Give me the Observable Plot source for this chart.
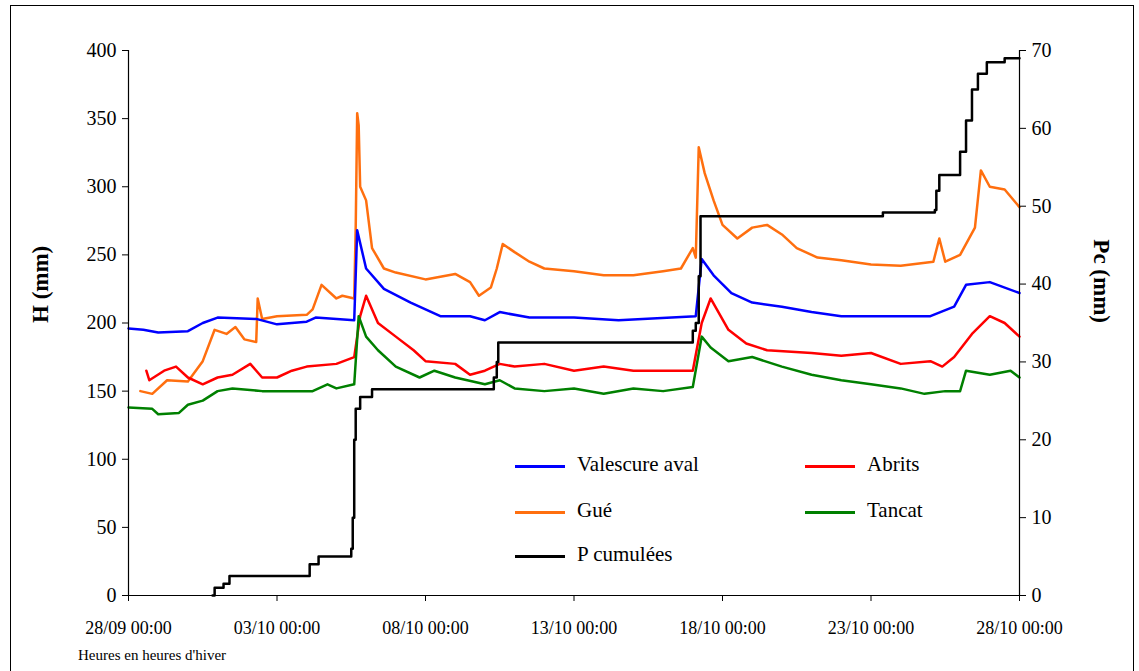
<!DOCTYPE html>
<html><head><meta charset="utf-8">
<script src="https://cdn.jsdelivr.net/npm/d3@7"></script>
<script src="https://cdn.jsdelivr.net/npm/@observablehq/plot@0.6"></script>
<style>
body{margin:0;background:#fff;font-family:'Liberation Serif','DejaVu Serif',serif}
#wrap{position:relative;width:1139px;height:671px}
#border{position:absolute;left:10px;top:5px;width:1124px;height:670px;border:1.5px solid #000;box-sizing:border-box;pointer-events:none}
#legend{position:absolute;left:515px;top:452px;font-size:21px;font-family:'Liberation Serif','DejaVu Serif',serif}
.it{position:absolute;white-space:nowrap;font-family:'Liberation Serif','DejaVu Serif',serif}
.it span{display:inline-block;width:50px;height:3px;vertical-align:middle;margin-right:12px}
#note{position:absolute;left:78px;top:647px;font-size:15px;font-family:'Liberation Serif','DejaVu Serif',serif}
</style></head><body>
<div id="wrap"><div id="chart"></div><div id="border"></div>
<div id="legend"></div><div id="note">Heures en heures d'hiver</div></div>
<script>
const t0 = new Date(2009,8,28);
const xTicks = ["28/09 00:00","03/10 00:00","08/10 00:00","13/10 00:00","18/10 00:00","23/10 00:00","28/10 00:00"];
const valescure = [[0,196],[0.5,195],[1,193],[2,194],[2.5,200],[3,204],[4.3,203],[5,199],[6,201],[6.3,204],[7.6,202],[7.7,268],[8,240],[8.6,225],[9.5,215],[10.5,205],[11.5,205],[12,202],[12.5,208],[13.5,204],[15,204],[16.5,202],[19.1,205],[19.3,247],[19.7,235],[20.3,222],[21,215],[22,212],[23,208],[24,205],[27,205],[27.8,212],[28.2,228],[29,230],[30,222]];
const gue = [[0.4,150],[0.8,148],[1.3,158],[2,157],[2.5,172],[2.9,195],[3.3,192],[3.6,197],[3.9,188],[4.3,186],[4.35,218],[4.5,203],[5,205],[6,206],[6.2,210],[6.5,228],[7,218],[7.2,220],[7.6,218],[7.65,270],[7.7,354],[7.75,345],[7.8,300],[8,290],[8.2,255],[8.6,240],[9,237],[10,232],[11,236],[11.5,230],[11.8,220],[12.2,226],[12.4,240],[12.6,258],[13,252],[13.5,245],[14,240],[15,238],[16,235],[17,235],[18,238],[18.6,240],[19,255],[19.1,248],[19.2,329],[19.4,310],[19.7,290],[20,272],[20.5,262],[21,270],[21.5,272],[22,265],[22.5,255],[23.2,248],[24,246],[25,243],[26,242],[27.1,245],[27.3,262],[27.5,245],[28,250],[28.5,270],[28.7,312],[29,300],[29.5,298],[30,285]];
const abrits = [[0.6,165],[0.7,158],[1.2,165],[1.6,168],[2,160],[2.5,155],[3,160],[3.5,162],[4.1,170],[4.5,160],[5,160],[5.5,165],[6,168],[7,170],[7.6,175],[7.8,205],[8,220],[8.4,200],[9,190],[9.6,180],[10,172],[11,170],[11.5,162],[12,165],[12.5,170],[13,168],[14,170],[15,165],[16,168],[17,165],[19,165],[19.3,200],[19.6,218],[20.2,195],[20.8,185],[21.5,180],[23,178],[24,176],[25,178],[26,170],[27,172],[27.4,168],[27.8,175],[28.4,192],[29,205],[29.5,200],[30,190]];
const tancat = [[0,138],[0.8,137],[1,133],[1.7,134],[2,140],[2.5,143],[3,150],[3.5,152],[4.5,150],[5.5,150],[6.2,150],[6.7,155],[7,152],[7.6,155],[7.75,205],[8,190],[8.4,180],[9,168],[9.8,160],[10.3,165],[11,160],[12,155],[12.5,158],[13,152],[14,150],[15,152],[16,148],[17,152],[18,150],[19,153],[19.3,190],[19.6,182],[20.2,172],[21,175],[22,168],[23,162],[24,158],[25,155],[26,152],[26.8,148],[27.5,150],[28,150],[28.2,165],[29,162],[29.7,165],[30,160]];
const pcum = [[2.83,0],[2.9,1],[3.2,1.5],[3.4,2.5],[6.0,2.5],[6.1,4],[6.4,5],[7.5,6],[7.55,10],[7.6,20],[7.65,24],[7.8,25.5],[8.2,26.5],[12.2,26.5],[12.3,28],[12.4,30],[12.45,32.5],[18.9,32.5],[19.0,34],[19.1,35],[19.2,41],[19.26,48.7],[25.3,48.7],[25.4,49.2],[27.15,49.5],[27.2,52],[27.3,54],[27.9,54],[28.0,57],[28.2,61],[28.4,65],[28.6,67],[28.9,68.5],[29.5,69],[30,69]];
const pcTicks = [0,10,20,30,40,50,60,70];
const series = [
 {name:"Valescure aval",color:"#0000ff",data:valescure},
 {name:"Abrits",color:"#ff0000",data:abrits},
 {name:"Gué",color:"#ff6f0f",data:gue},
 {name:"Tancat",color:"#008000",data:tancat},
 {name:"P cumulées",color:"#000000",data:pcum.map(([d,v])=>[d,v*400/70]),step:true}
];
const toDate = d => new Date(+t0 + d*864e5);
const marks = [];
const order=[2,1,3,0,4];
for (const i of order){const s=series[i];
 marks.push(Plot.line(s.data,{x:d=>toDate(d[0]),y:d=>d[1],stroke:s.color,strokeWidth:2.5,curve:s.step?"step-after":"linear"}));}
const ticks = xTicks.map((_,i)=>toDate(i*5));
const plot = Plot.plot({
 width:1139,height:671,marginLeft:128,marginRight:120,marginTop:50,marginBottom:76,
 style:{fontFamily:"Liberation Serif, serif",fontSize:"20px",background:"transparent"},
 x:{type:"time",domain:[t0,toDate(30)]},
 y:{domain:[0,400]},
 marks:[
  ...marks,
  Plot.axisX({ticks,tickFormat:(d,i)=>xTicks[i],tickSize:6,tickPadding:20,fontSize:18,label:null}),
  Plot.ruleY([0],{strokeWidth:1.2}),
  Plot.axisY({ticks:d3.range(0,401,50),tickSize:6,fontSize:20,label:null,tickPadding:6}),
  Plot.ruleX([t0],{strokeWidth:1.2}),
  Plot.axisY({anchor:"right",ticks:pcTicks.map(v=>v*400/70),tickFormat:d=>Math.round(d*70/400),tickSize:6,fontSize:20,label:null,tickPadding:6}),
  Plot.ruleX([toDate(30)],{strokeWidth:1.2}),
  Plot.text(["H (mm)"],{frameAnchor:"left",dx:-88,rotate:-90,fontSize:23,fontWeight:"bold"}),
  Plot.text(["Pc (mm)"],{frameAnchor:"right",dx:82,rotate:90,fontSize:23,fontWeight:"bold"})
 ]
});
document.getElementById("chart").appendChild(plot);
const leg=[[0,0,0],[1,290,0],[2,0,46],[3,290,46],[4,0,90]];
const L=document.getElementById("legend");
for(const [i,x,y] of leg){const s=series[i];const e=document.createElement("div");e.className="it";e.style.left=x+"px";e.style.top=y+"px";
 e.innerHTML=`<span style="background:${s.color}"></span>${s.name}`;L.appendChild(e);}
</script></body></html>
